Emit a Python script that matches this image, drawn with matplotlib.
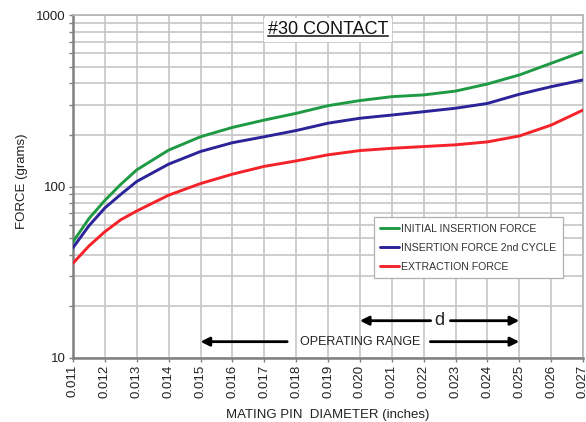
#!/usr/bin/env python3
"""#30 contact: mating force vs pin diameter (log scale)"""
import matplotlib
matplotlib.use('Agg')
import matplotlib.pyplot as plt
from matplotlib.lines import Line2D
from matplotlib.ticker import FixedLocator, LogLocator, NullFormatter

plt.rcParams['font.family'] = ['Liberation Sans', 'DejaVu Sans']

# Pin diameter (inches)
diameter = [0.011, 0.0115, 0.012, 0.0125, 0.013, 0.014, 0.015, 0.016, 0.017, 0.018,
            0.019, 0.020, 0.021, 0.022, 0.023, 0.024, 0.025, 0.026, 0.027]
# Forces (grams)
initial_insertion = [47.6, 65, 83, 103, 125, 163, 195, 221, 244, 267,
                     296, 317, 334, 342, 360, 396, 447, 523, 611]
insertion_2nd = [44, 59, 75, 90, 107, 135, 160, 180, 195, 212,
                 234, 250, 261, 273, 286, 305, 345, 382, 418]
extraction = [35.7, 45, 54.5, 64, 72, 89, 104, 118, 131, 141,
              153, 162, 167, 171, 175, 182, 197, 228, 279]

series_labels = ['INITIAL INSERTION FORCE', 'INSERTION FORCE 2nd CYCLE', 'EXTRACTION FORCE']
series_colors = ['#1f9a44', '#2b2398', '#f5222a']

x_ticks = [0.011 + 0.001 * i for i in range(17)]
x_ticklabels = [f'{t:.3f}' for t in x_ticks]

operating_range = (0.015, 0.025)
d_range = (0.020, 0.025)

GRID = '#c6c6c6'
SPINE = '#808080'

fig = plt.figure(figsize=(5.86, 4.22), dpi=100)
ax = fig.add_axes([73 / 586, 1 - 358 / 422, 510 / 586, 343 / 422])

for ys, lab, col in zip([initial_insertion, insertion_2nd, extraction], series_labels, series_colors):
    ax.plot(diameter, ys, color=col, lw=2.1, label=lab, solid_capstyle='round',
            solid_joinstyle='round', zorder=3)

ax.set_yscale('log')
ax.set_ylim(10, 1000)
ax.set_xlim(x_ticks[0], x_ticks[-1])

ax.xaxis.set_major_locator(FixedLocator(x_ticks))
ax.set_xticklabels(x_ticklabels, rotation=90, fontsize=9.5, color='#222222')
ax.yaxis.set_major_locator(LogLocator(base=10))
ax.yaxis.set_minor_locator(LogLocator(base=10, subs=range(2, 10)))
ax.yaxis.set_minor_formatter(NullFormatter())
ax.set_yticks([10, 100, 1000])
ax.set_yticklabels(['10', '100', '1000'], fontsize=9.5, color='#222222')
ax.tick_params(axis='both', which='both', length=3, width=1, color=SPINE, pad=2)

ax.grid(True, which='major', axis='both', color=GRID, lw=1.2)
ax.grid(True, which='minor', axis='y', color=GRID, lw=1.2)
ax.set_axisbelow(True)

for side in ['left', 'bottom']:
    ax.spines[side].set_color(SPINE)
    ax.spines[side].set_linewidth(1.8)
for side in ['top', 'right']:
    ax.spines[side].set_color('#b4b4b4')
    ax.spines[side].set_linewidth(1.2)

ax.set_xlabel('MATING PIN  DIAMETER (inches)', fontsize=9.5, color='#222222')
ax.xaxis.set_label_coords(0.5, -0.166)
ax.xaxis.label.set_va('center')
ax.set_ylabel('FORCE (grams)', fontsize=9.5, color='#222222')
ax.yaxis.set_label_coords(-0.100, 0.515)
ax.yaxis.label.set_va('center')

# title box inside the plot
title = ax.text(0.01900, 820, '#30 CONTACT', fontsize=13, ha='center', va='center', color='#111111',
                bbox=dict(facecolor='white', edgecolor='none', pad=2.5), zorder=4)

leg = ax.legend(loc='upper left', bbox_to_anchor=(0.590, 0.410), fontsize=7.6, frameon=True,
                fancybox=False, framealpha=1, edgecolor='#b0b0b0', handlelength=1.8,
                handletextpad=0.2, labelspacing=0.85, borderpad=0.6, borderaxespad=0)
leg.get_frame().set_linewidth(0.9)
for txt in leg.get_texts():
    txt.set_color('#333333')

# dimension arrows
arrow_kw = dict(arrowstyle='-|>', color='black', lw=2, mutation_scale=13, shrinkA=0, shrinkB=0)
y_d, y_op = 16.5, 12.45

ax.text(sum(d_range) / 2, y_d, 'd', fontsize=13, ha='center', va='center', color='#222222')
ax.annotate('', xy=(d_range[0], y_d), xytext=(0.02222, y_d), arrowprops=arrow_kw)
ax.annotate('', xy=(d_range[1], y_d), xytext=(0.02284, y_d), arrowprops=arrow_kw)

ax.text(sum(operating_range) / 2, y_op, 'OPERATING RANGE', fontsize=9, ha='center', va='center',
        color='#222222')
ax.annotate('', xy=(operating_range[0], y_op), xytext=(0.01772, y_op), arrowprops=arrow_kw)
ax.annotate('', xy=(operating_range[1], y_op), xytext=(0.02221, y_op), arrowprops=arrow_kw)

# underline the title
fig.canvas.draw()
bb = title.get_window_extent()
inv = fig.transFigure.inverted()
(x0, y0), (x1, _) = inv.transform([(bb.x0, bb.y0 + 1.8), (bb.x1, bb.y0 + 1.8)])
fig.add_artist(Line2D([x0, x1], [y0, y0], color='#111111', lw=1.1))

fig.savefig('out.png', dpi=100)
